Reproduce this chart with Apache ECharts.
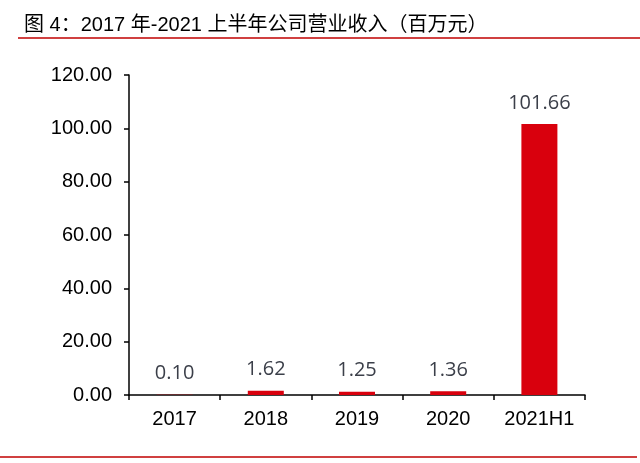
<!DOCTYPE html>
<html><head><meta charset="utf-8">
<script src="https://cdn.jsdelivr.net/npm/echarts@6/dist/echarts.min.js"></script>
<style>html,body{margin:0;padding:0;background:#fff}#c{width:640px;height:463px}</style>
</head><body><div id="c"></div>
<script>
const categories = ['2017','2018','2019','2020','2021H1'];
const revenue = [0.10, 1.62, 1.25, 1.36, 101.66];
const titleText = '图 4：2017 年-2021 上半年公司营业收入（百万元）';

const chart = echarts.init(document.getElementById('c'));
chart.setOption({
  animation: false,
  backgroundColor: '#fff',
  title: {
    text: titleText, left: 19, top: 10,
    textStyle: {fontFamily: 'Liberation Sans, Noto Sans CJK SC', fontSize: 20, fontWeight: 'normal', color: '#000'}
  },
  graphic: [
    {type: 'line', shape: {x1: 18, y1: 38, x2: 640, y2: 38}, style: {stroke: '#c00000', lineWidth: 1.5}},
    {type: 'line', shape: {x1: 0, y1: 457, x2: 637, y2: 457}, style: {stroke: '#c00000', lineWidth: 1.5}}
  ],
  grid: {left: 129, right: 55, top: 75, bottom: 68},
  xAxis: {
    type: 'category', data: categories,
    axisLine: {lineStyle: {color: '#000', width: 1.5}},
    axisTick: {show: true, length: 5, lineStyle: {color: '#000', width: 1.5}},
    axisLabel: {color: '#000', fontSize: 20, fontFamily: 'Liberation Sans', margin: 14}
  },
  yAxis: {
    type: 'value', min: 0, max: 120, interval: 20,
    axisLine: {show: true, lineStyle: {color: '#000', width: 1.5}},
    axisTick: {show: true, length: 5, lineStyle: {color: '#000', width: 1.5}},
    splitLine: {show: false},
    axisLabel: {color: '#000', fontSize: 20, fontFamily: 'Liberation Sans', margin: 17,
      formatter: v => v.toFixed(2)}
  },
  series: [{
    type: 'bar', data: revenue, barWidth: 36,
    itemStyle: {color: '#d9000d'},
    label: {show: true, position: 'top', distance: 11, color: '#3b3f49', fontSize: 20,
      fontFamily: 'Open Sans', formatter: p => p.value.toFixed(2)}
  }]
});
</script></body></html>
